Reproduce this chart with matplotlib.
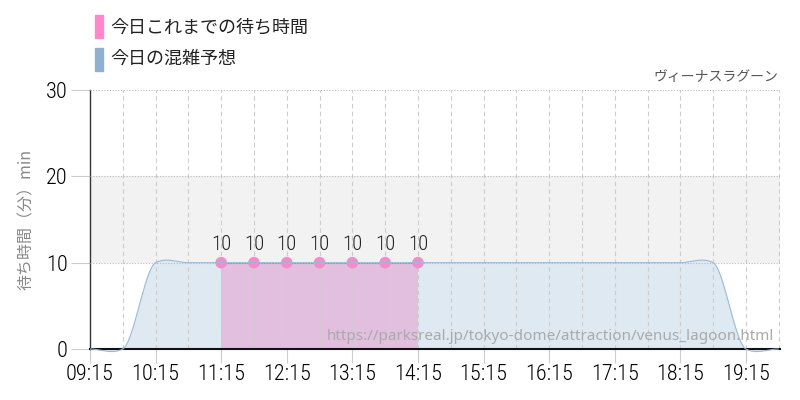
import numpy as np
import matplotlib
matplotlib.use("Agg")
import matplotlib.pyplot as plt
from matplotlib.path import Path
from matplotlib.patches import PathPatch

# 今日の混雑予想 (30分おき)
forecast_times = ["09:15", "09:45", "10:15", "10:45", "11:15", "11:45", "12:15", "12:45",
                  "13:15", "13:45", "14:15", "14:45", "15:15", "15:45", "16:15", "16:45",
                  "17:15", "17:45", "18:15", "18:45", "19:15", "19:45"]
forecast_wait = [0, 0, 10, 10, 10, 10, 10, 10, 10, 10, 10, 10, 10, 10, 10, 10,
                 10, 10, 10, 10, 0, 0]

# 今日これまでの待ち時間
actual_times = ["11:15", "11:45", "12:15", "12:45", "13:15", "13:45", "14:15"]
actual_wait = [10, 10, 10, 10, 10, 10, 10]

tick_labels = ["09:15", "10:15", "11:15", "12:15", "13:15", "14:15",
               "15:15", "16:15", "17:15", "18:15", "19:15"]

JP = ["Noto Sans CJK JP", "DejaVu Sans"]
NUM = ["Roboto Condensed", "Oswald", "DejaVu Sans"]


def to_hours(t):
    h, m = t.split(":")
    return int(h) + int(m) / 60


def smooth_path(x, y, k=0.4, close_to=None):
    # cardinal spline as bezier segments
    x = np.asarray(x, float)
    y = np.asarray(y, float)
    n = len(x)
    m = np.zeros(n)
    for i in range(1, n - 1):
        m[i] = k * (y[i + 1] - y[i - 1]) / (x[i + 1] - x[i - 1])
    verts = [(x[0], y[0])]
    codes = [Path.MOVETO]
    for i in range(n - 1):
        h = x[i + 1] - x[i]
        verts += [(x[i] + h / 3, y[i] + m[i] * h / 3),
                  (x[i + 1] - h / 3, y[i + 1] - m[i + 1] * h / 3),
                  (x[i + 1], y[i + 1])]
        codes += [Path.CURVE4] * 3
    if close_to is not None:
        verts += [(x[-1], close_to), (x[0], close_to), (x[0], y[0])]
        codes += [Path.LINETO, Path.LINETO, Path.CLOSEPOLY]
    return Path(verts, codes)


fx = [to_hours(t) for t in forecast_times]
ax_ = [to_hours(t) for t in actual_times]

fig = plt.figure(figsize=(8, 4), dpi=100)
ax = fig.add_axes([0.1125, 0.1275, 0.8625, 0.6475])

ax.set_xlim(9.25, 19.77)
ax.set_ylim(0, 30)

# 10-20 の帯
ax.axhspan(10, 20, color="#f2f2f2", zorder=0, lw=0)

# 予想エリア
ax.add_patch(PathPatch(smooth_path(fx, forecast_wait, close_to=0),
                       facecolor="#dfe9f2", edgecolor="none", zorder=1, clip_on=False))
ax.add_patch(PathPatch(smooth_path(fx, forecast_wait), facecolor="none",
                       edgecolor="#9bbad8", lw=0.8, zorder=9, clip_on=False))

# 実績エリア
ax.fill_between(ax_, actual_wait, 0, color="#e2bfdf", lw=0, zorder=3)
ax.plot(ax_, actual_wait, color="#d070c0", lw=0.8, zorder=4)
ax.scatter(ax_, actual_wait, s=70, color="#f48ccc", edgecolors="none", zorder=6)
for xv, yv in zip(ax_, actual_wait):
    ax.text(xv, yv + 1.0, str(yv), ha="center", va="bottom", fontsize=15,
            color="#222222", family=NUM, fontweight="light", zorder=7)

# グリッド
for gx in np.arange(9.75, 19.8, 0.5):
    ax.axvline(gx, color="#cccccc", lw=0.8, ls=(0, (4, 3)), zorder=5)
for gy in [10, 20, 30]:
    ax.axhline(gy, color="#bbbbbb", lw=0.8, ls=(0, (1, 1.5)), zorder=5)

ax.set_xticks([to_hours(t) for t in tick_labels])
ax.set_xticklabels(tick_labels, family=NUM, fontsize=16, color="#000000", fontweight="light")
ax.set_yticks([0, 10, 20, 30])
ax.set_yticklabels(["0", "10", "20", "30"], family=NUM, fontsize=16, color="#000000",
                   fontweight="light")
ax.tick_params(axis="x", length=10, color="#cccccc", width=0.8, pad=1)
ax.tick_params(axis="y", length=14, color="#cccccc", width=0.8, pad=2)

for s in ["top", "right"]:
    ax.spines[s].set_visible(False)
ax.spines["left"].set_color("#333333")
ax.spines["left"].set_linewidth(1.0)
ax.spines["bottom"].set_color("#111111")
ax.spines["bottom"].set_linewidth(1.5)
ax.spines["bottom"].set_zorder(8)

ax.set_ylabel("待ち時間（分）min", family=JP, fontsize=11.5, color="#888888", labelpad=8)

# 凡例
fig.patches.append(plt.Rectangle((95 / 800, 1 - 38 / 400), 8 / 800, 23 / 400,
                                 transform=fig.transFigure, color="#ff88cc"))
fig.patches.append(plt.Rectangle((95 / 800, 1 - 71 / 400), 8 / 800, 23 / 400,
                                 transform=fig.transFigure, color="#8fb0d0"))
fig.text(110 / 800, 1 - 27 / 400, "今日これまでの待ち時間", family=JP, fontsize=13,
         color="#222222", va="center")
fig.text(110 / 800, 1 - 59 / 400, "今日の混雑予想", family=JP, fontsize=13,
         color="#222222", va="center")

fig.text(778 / 800, 1 - 77 / 400, "ヴィーナスラグーン", family=JP, fontsize=10,
         color="#555555", ha="right", va="center")

ax.text(0.992, 0.05, "https://parksreal.jp/tokyo-dome/attraction/venus_lagoon.html",
        transform=ax.transAxes, ha="right", va="center", fontsize=11,
        family=["Noto Sans", "DejaVu Sans"], color="#aaaaaa", zorder=9)

fig.savefig("out.png", dpi=100)
